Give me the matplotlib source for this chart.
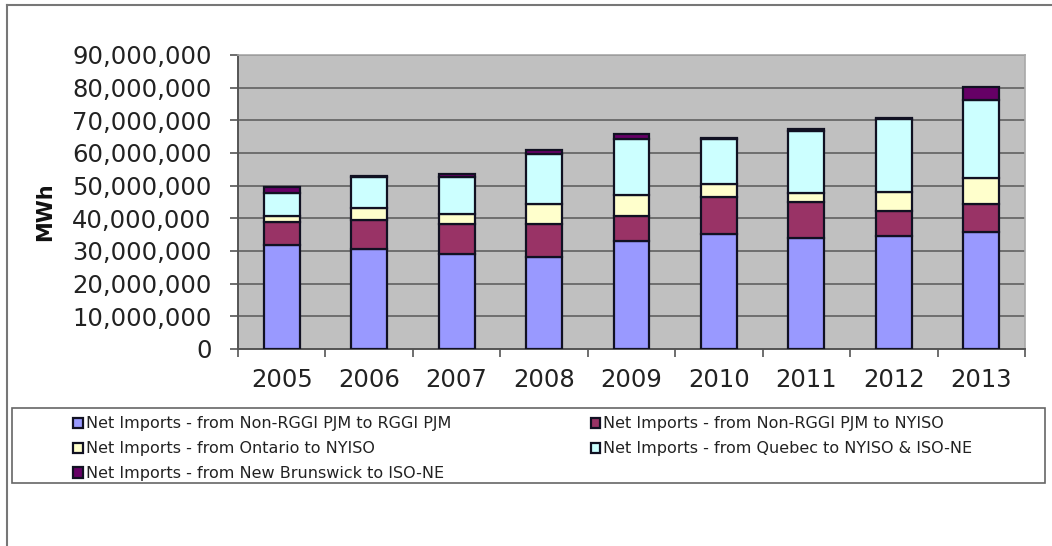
import numpy as np
import matplotlib
matplotlib.use("Agg")
import matplotlib.pyplot as plt
from matplotlib.patches import Rectangle
from matplotlib.ticker import FuncFormatter

years = ["2005", "2006", "2007", "2008", "2009", "2010", "2011", "2012", "2013"]

# values in MWh (millions)
pjm_to_rggi_pjm = [31.9, 30.7, 29.1, 28.3, 33.2, 35.2, 34.0, 34.5, 35.7]
pjm_to_nyiso = [6.9, 8.7, 9.2, 10.0, 7.6, 11.4, 10.9, 7.8, 8.7]
ontario_to_nyiso = [1.8, 3.7, 3.0, 6.1, 6.4, 3.9, 3.0, 5.7, 7.8]
quebec_to_nyiso_isone = [7.3, 9.4, 11.5, 15.2, 17.1, 13.8, 18.7, 22.3, 24.0]
nb_to_isone = [1.8, 0.6, 0.9, 1.3, 1.4, 0.3, 0.7, 0.4, 4.1]

labels = [
    "Net Imports - from Non-RGGI PJM to RGGI PJM",
    "Net Imports - from Non-RGGI PJM to NYISO",
    "Net Imports - from Ontario to NYISO",
    "Net Imports - from Quebec to NYISO & ISO-NE",
    "Net Imports - from New Brunswick to ISO-NE",
]
colors = ["#9999FF", "#993366", "#FFFFCC", "#CCFFFF", "#660066"]

series = [pjm_to_rggi_pjm, pjm_to_nyiso, ontario_to_nyiso, quebec_to_nyiso_isone, nb_to_isone]

plt.rcParams["font.family"] = ["DejaVu Sans"]

fig = plt.figure(figsize=(10.52, 5.46), dpi=100)
W, H = 1052, 546
ax = fig.add_axes([238 / W, 1 - 349 / H, (1025 - 238) / W, (349 - 55) / H])
ax.set_facecolor("#C0C0C0")

x = np.arange(len(years))
bottom = np.zeros(len(years))
handles = []
for vals, lab, col in zip(series, labels, colors):
    v = np.array(vals) * 1e6
    b = ax.bar(x, v, width=0.41, bottom=bottom, color=col, edgecolor="#111122",
               linewidth=1.6, label=lab, zorder=3)
    handles.append(b)
    bottom += v

ax.set_xlim(-0.5, len(years) - 0.5)
ax.set_ylim(0, 90e6)
ax.set_yticks(np.arange(0, 90e6 + 1, 10e6))
ax.yaxis.set_major_formatter(FuncFormatter(lambda v, p: f"{int(v):,}"))
ax.grid(axis="y", color="#6e6e6e", linewidth=1.4, zorder=1)
ax.set_axisbelow(True)

ax.set_xticks(x)
ax.set_xticklabels(years)
ax.set_xticks(np.arange(-0.5, len(years)), minor=True)
ax.tick_params(axis="x", which="major", length=0, pad=14, labelsize=17.5)
ax.tick_params(axis="x", which="minor", length=6, direction="out", color="#555555", width=1.2)
ax.tick_params(axis="y", length=6, direction="out", color="#555555", width=1.2,
               pad=13, labelsize=17.5, labelcolor="#222222")
ax.tick_params(axis="x", labelcolor="#222222")

for s in ["left", "bottom"]:
    ax.spines[s].set_color("#555555")
    ax.spines[s].set_linewidth(1.4)
for s in ["top", "right"]:
    ax.spines[s].set_color("#a8a8a8")
    ax.spines[s].set_linewidth(1.2)

fig.text(45 / W, 1 - 212 / H, "MWh", rotation=90, ha="center", va="center",
         fontsize=15, fontweight="bold", color="#111111")

# outer chart frame (left and top edges)
fig.add_artist(plt.Line2D([7 / W, 7 / W], [0, 1 - 5 / H], color="#777777", lw=1.5))
fig.add_artist(plt.Line2D([7 / W, 1], [1 - 5 / H, 1 - 5 / H], color="#777777", lw=1.5))

# legend frame
fig.add_artist(Rectangle((12 / W, 1 - 483 / H), (1045 - 12) / W, (483 - 408) / H,
                         transform=fig.transFigure, fill=False, edgecolor="#666666", lw=1.2))

order = [0, 2, 4, 1, 3]
leg = fig.legend([handles[i] for i in order], [labels[i] for i in order], ncol=2,
                 loc="upper left", bbox_to_anchor=(67 / W, 1 - 410 / H), frameon=False,
                 fontsize=11.5, handlelength=0.6, handleheight=0.6, handletextpad=0.2,
                 columnspacing=8.7, labelspacing=0.62, borderaxespad=0)
for t in leg.get_texts():
    t.set_color("#222222")

fig.savefig("out.png", dpi=100)
